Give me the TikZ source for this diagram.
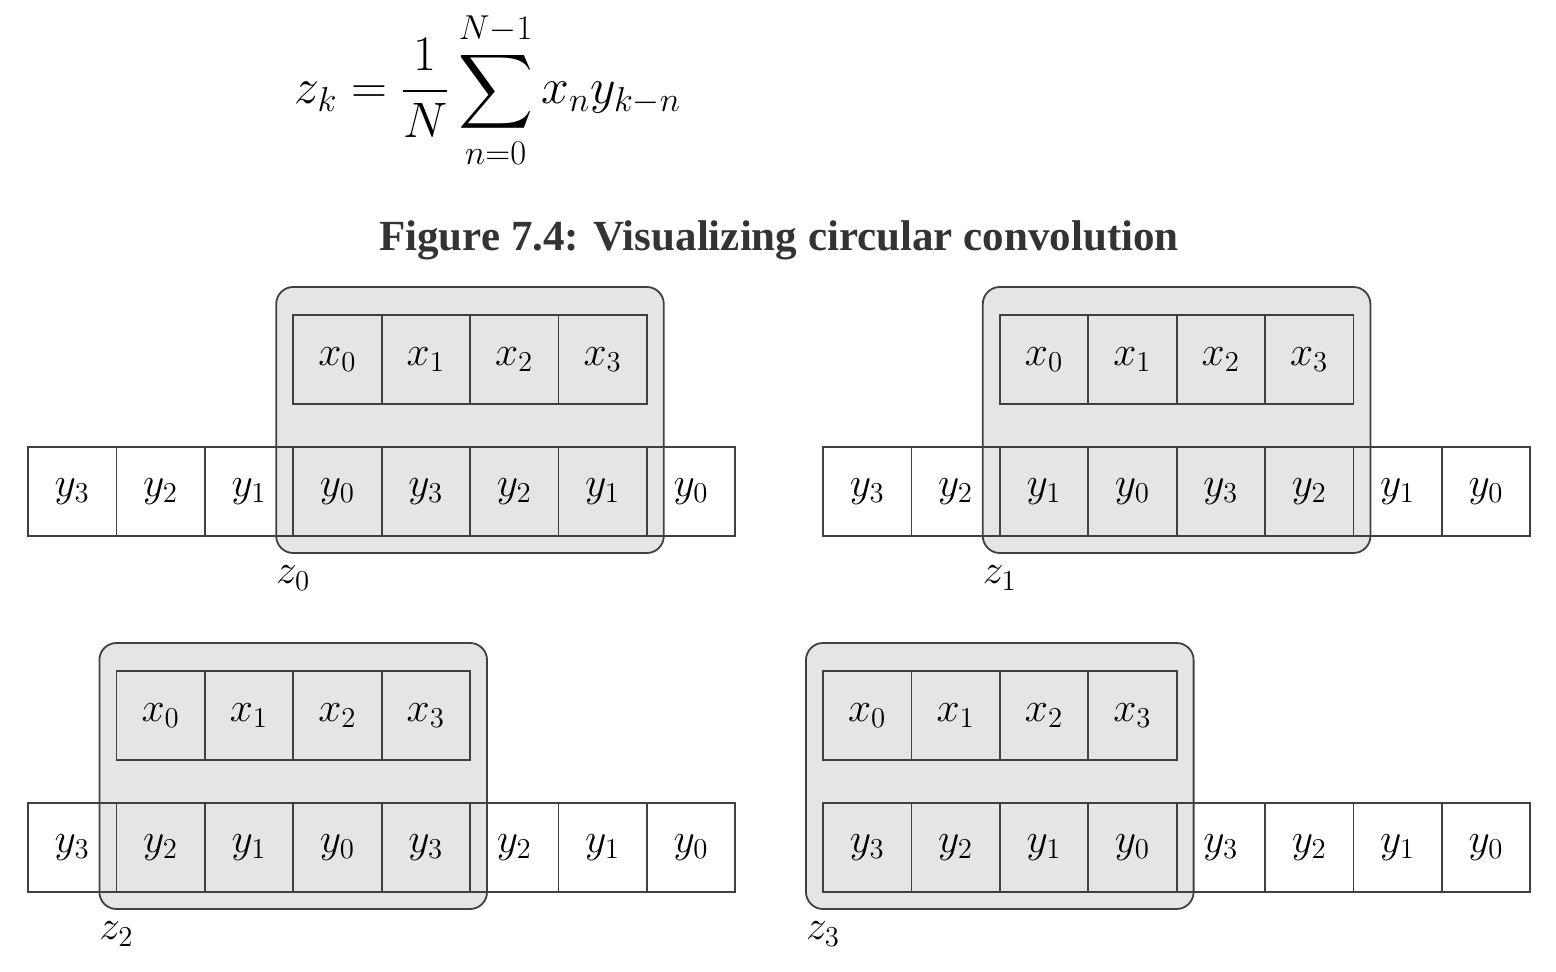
\documentclass[tikz,border=0pt]{standalone}
\usepackage{amsmath,amssymb}
\usepackage{fontspec}
\newfontfamily\titlefont{Liberation Serif}
\usepackage{tikz}

\tikzset{
  cell/.style={draw=black!75, line width=0.9pt, minimum width=44.2pt, minimum height=44.5pt,
    inner sep=0pt, font=\fontsize{20}{24}\selectfont},
  win/.style={fill=gray!20, draw=black!75, line width=0.9pt, rounded corners=8.5pt},
  zlab/.style={inner sep=0pt, font=\fontsize{20}{24}\selectfont}
}

% one panel: name, left and top of the y row, first shaded cell, index of z
\newcommand{\convpanel}[5]{%
  \filldraw[win] ({#2+#4*88.4-17},{#3-160}) rectangle ({#2+(#4+4)*88.4+17},{#3+106});
  \foreach \i in {0,...,7} {
    \pgfmathtruncatemacro{\k}{3-mod(\i,4)}
    \node[cell] (#1-y\i) at ({#2+(\i+0.5)*88.4},{#3+44.5}) {$y_{\k}$};
  }
  \foreach \j in {0,...,3}
    \node[cell] (#1-x\j) at ({#2+(#4+\j+0.5)*88.4},{#3-87.5}) {$x_{\j}$};
  \node[zlab] (#1-z) at ({#2+#4*88.4},{#3+131}) {$z_{#5}$};
}

\begin{document}
\begin{tikzpicture}[x=0.5pt, y=-0.5pt]
  \useasboundingbox (0,0) rectangle (1556,972);
  \node (formula) at (488,90) {\fontsize{26}{30}\selectfont
    $\displaystyle z_k=\frac{1}{N}\sum_{n=0}^{N-1}x_ny_{k-n}$};
  \node[text=black!80] (title) at (779,240)
    {\titlefont\bfseries\fontsize{21.5}{25}\selectfont Figure 7.4: Visualizing circular convolution};

  \convpanel{zero}{28}{447}{3}{0}
  \convpanel{one}{823}{447}{2}{1}
  \convpanel{two}{28}{803}{1}{2}
  \convpanel{three}{823}{803}{0}{3}
\end{tikzpicture}
\end{document}
